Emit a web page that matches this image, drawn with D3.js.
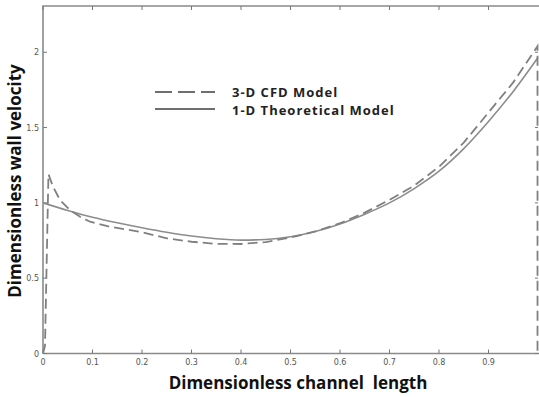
<!DOCTYPE html>
<html><head><meta charset="utf-8">
<script src="https://cdn.jsdelivr.net/npm/d3@7"></script>
<style>body{margin:0;background:#fff}svg{display:block}</style>
</head><body>
<script>
const cfdX = [0, 0.004, 0.011, 0.02, 0.034, 0.054, 0.075, 0.095, 0.13, 0.2, 0.25, 0.3, 0.35, 0.4, 0.45, 0.5, 0.55, 0.6, 0.65, 0.7, 0.75, 0.8, 0.85, 0.9, 0.95, 0.999, 0.999];
const cfdY = [0, 0.05, 1.19, 1.11, 1.02, 0.953, 0.908, 0.875, 0.845, 0.805, 0.765, 0.742, 0.728, 0.727, 0.74, 0.77, 0.81, 0.865, 0.935, 1.02, 1.115, 1.24, 1.40, 1.60, 1.80, 2.04, 0];
const theoX = [0, 0.05, 0.1, 0.15, 0.2, 0.25, 0.3, 0.35, 0.4, 0.45, 0.5, 0.55, 0.6, 0.65, 0.7, 0.75, 0.8, 0.85, 0.9, 0.95, 1.0];
const theoY = [1.0, 0.95, 0.905, 0.868, 0.835, 0.805, 0.78, 0.762, 0.753, 0.757, 0.775, 0.81, 0.86, 0.925, 1.0, 1.095, 1.21, 1.36, 1.54, 1.74, 1.965];
const xTicks = [0, 0.1, 0.2, 0.3, 0.4, 0.5, 0.6, 0.7, 0.8, 0.9];
const yTicks = [0, 0.5, 1, 1.5, 2];
const seriesNames = ["3-D CFD Model", "1-D Theoretical Model"];

const W = 539, H = 397;
const svg = d3.select("body").append("svg").attr("width", W).attr("height", H);
const x = d3.scaleLinear().domain([0, 1]).range([43, 538]);
const y = d3.scaleLinear().domain([0, 2.307]).range([353.5, 6]);
const axisColor = "#8a8a8a";

// frame
svg.append("path")
  .attr("d", `M${x(0)},${y(0)}V${y(2.307)}H${x(1)+1}M${x(0)},${y(0)}H${x(1)+1}`)
  .attr("fill", "none").attr("stroke", axisColor).attr("stroke-width", 1.6);

// ticks (inward, mirrored)
const tk = svg.append("g").attr("stroke", "#777").attr("stroke-width", 1);
xTicks.forEach(t => {
  tk.append("line").attr("x1", x(t)).attr("x2", x(t)).attr("y1", y(0)).attr("y2", y(0) - 4);
  tk.append("line").attr("x1", x(t)).attr("x2", x(t)).attr("y1", y(2.307)).attr("y2", y(2.307) + 4);
});
yTicks.forEach(t => {
  tk.append("line").attr("x1", x(0)).attr("x2", x(0) + 4).attr("y1", y(t)).attr("y2", y(t));
  tk.append("line").attr("x1", x(1) - 3).attr("x2", x(1)).attr("y1", y(t)).attr("y2", y(t));
});

// tick labels
const lab = svg.append("g").attr("font-family", "DejaVu Sans, sans-serif").attr("font-size", 8).attr("fill", "#555");
xTicks.forEach(t => {
  lab.append("text").attr("x", x(t)).attr("y", y(0) + 11).attr("text-anchor", "middle").text(d3.format("")(t));
});
yTicks.forEach(t => {
  lab.append("text").attr("x", x(0) - 4).attr("y", y(t) + 3).attr("text-anchor", "end").text(d3.format("")(t));
});

// lines
const line = d3.line().x(d => x(d[0])).y(d => y(d[1]));
const theo = theoX.map((v, i) => [v, theoY[i]]);
const cfd = cfdX.map((v, i) => [v, cfdY[i]]);
svg.append("path").datum(theo).attr("d", line.curve(d3.curveMonotoneX))
  .attr("fill", "none").attr("stroke", "#8c8c8c").attr("stroke-width", 1.6);
svg.append("path").datum(cfd).attr("d", d3.line().x(d => x(d[0])).y(d => y(d[1])).curve(d3.curveLinear))
  .attr("fill", "none").attr("stroke", "#808080").attr("stroke-width", 1.8).attr("stroke-dasharray", "10,5");

// legend
const lg = svg.append("g");
lg.append("line").attr("x1", 155).attr("x2", 215).attr("y1", 92).attr("y2", 92)
  .attr("stroke", "#6f6f6f").attr("stroke-width", 2.2).attr("stroke-dasharray", "17,6");
lg.append("line").attr("x1", 155).attr("x2", 215).attr("y1", 109).attr("y2", 109)
  .attr("stroke", "#6f6f6f").attr("stroke-width", 2);
seriesNames.forEach((n, i) => {
  lg.append("text").attr("x", 232).attr("y", 96.5 + i * 18).attr("font-family", "Open Sans, sans-serif")
    .attr("font-weight", "bold").attr("font-size", 13).attr("letter-spacing", 1).attr("fill", "#222").text(n);
});

// axis titles
svg.append("text").attr("x", 298).attr("y", 389).attr("text-anchor", "middle").style("white-space", "pre")
  .attr("font-family", "Open Sans, sans-serif").attr("font-weight", "bold").attr("font-size", 17).attr("fill", "#111")
  .text("Dimensionless channel  length");
svg.append("text").attr("transform", "translate(21,181) rotate(-90)").attr("text-anchor", "middle")
  .attr("font-family", "Open Sans, sans-serif").attr("font-weight", "bold").attr("font-size", 17).attr("fill", "#111")
  .text("Dimensionless wall velocity");
</script>
</body></html>
